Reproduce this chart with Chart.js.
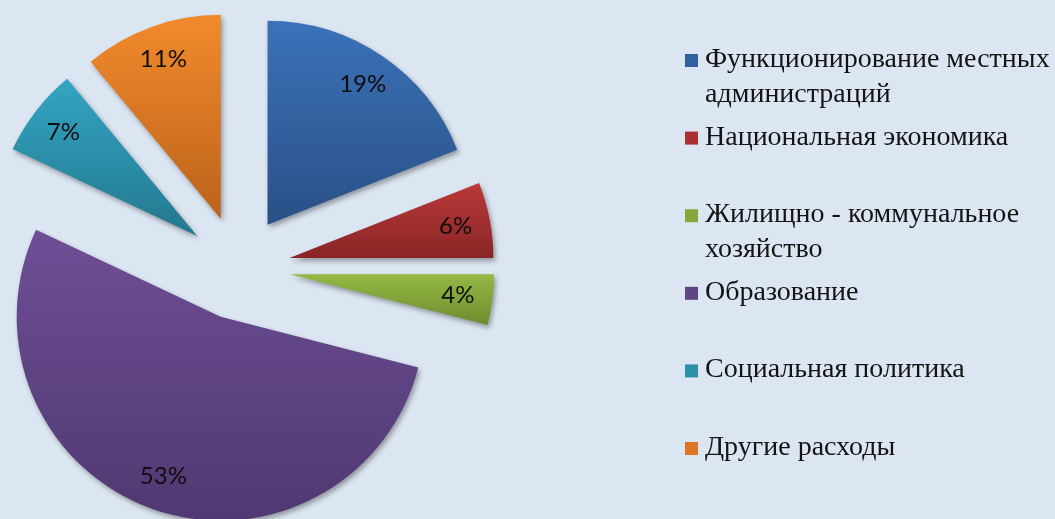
<!DOCTYPE html>
<html lang="ru">
<head>
<meta charset="utf-8">
<title>Структура расходов</title>
<script src="https://cdn.jsdelivr.net/npm/chart.js@4"></script>
<style>
  html, body { margin: 0; padding: 0; background: #dce6f2; }
  #wrap { width: 1055px; height: 519px; position: relative; }
</style>
</head>
<body>
<div id="wrap"><canvas id="pieChart"></canvas></div>
<script>
// Данные диаграммы
const categories = [
    ['Функционирование местных', 'администраций'],
    'Национальная экономика',
    ['Жилищно - коммунальное', 'хозяйство'],
    'Образование',
    'Социальная политика',
    'Другие расходы'
];
const values = [19, 6, 4, 53, 7, 11];

// Цвета: верх и низ градиента, и цвет маркера легенды
const topColors = ['#3b72b9', '#b93939', '#94b944', '#6e4f96', '#33a5c3', '#f28a2c'];
const bottomColors = ['#295086', '#8a2525', '#6e8c2f', '#503871', '#23788e', '#bc621b'];
const legendColors = ['#3060a0', '#a83030', '#84a83c', '#604585', '#2b90aa', '#dc7624'];

const EXPLODE = 52;      // вынос секторов, px
const LABEL_POS = 0.83;  // положение подписи от центра (доля радиуса)

// Градиент сверху вниз по высоте сектора
function sliceGradient(ctx, arc, i) {
    let top = arc.y, bottom = arc.y;
    for (let k = 0; k <= 40; k++) {
        const a = arc.startAngle + (arc.endAngle - arc.startAngle) * k / 40;
        const py = arc.y + Math.sin(a) * arc.outerRadius;
        top = Math.min(top, py);
        bottom = Math.max(bottom, py);
    }
    const g = ctx.createLinearGradient(0, top, 0, bottom);
    g.addColorStop(0, topColors[i]);
    g.addColorStop(1, bottomColors[i]);
    return g;
}

// Рисуем секторы сами: каждый смещён на одинаковое расстояние, с тенью
const explodePlugin = {
    id: 'explode',
    beforeDatasetDraw(chart, args) {
        const ctx = chart.ctx;
        args.meta.data.forEach((arc, i) => {
            const mid = (arc.startAngle + arc.endAngle) / 2;
            ctx.save();
            ctx.translate(Math.cos(mid) * EXPLODE, Math.sin(mid) * EXPLODE);
            ctx.shadowColor = 'rgba(0, 0, 0, 0.35)';
            ctx.shadowBlur = 5;
            ctx.shadowOffsetX = 2;
            ctx.shadowOffsetY = 3;
            arc.options.backgroundColor = sliceGradient(ctx, arc, i);
            arc.draw(ctx);
            ctx.restore();
        });
        return false;
    }
};

// Подписи процентов внутри секторов
const labelsPlugin = {
    id: 'sliceLabels',
    afterDatasetsDraw(chart) {
        const ctx = chart.ctx;
        const meta = chart.getDatasetMeta(0);
        const total = values.reduce((a, b) => a + b, 0);
        ctx.save();
        ctx.font = '24px Lato';
        ctx.fillStyle = '#0e0e0e';
        ctx.textAlign = 'center';
        ctx.textBaseline = 'middle';
        meta.data.forEach((arc, i) => {
            const mid = (arc.startAngle + arc.endAngle) / 2;
            const r = EXPLODE + arc.outerRadius * LABEL_POS;
            const text = Math.round(values[i] / total * 100) + '%';
            ctx.fillText(text, arc.x + Math.cos(mid) * r, arc.y + Math.sin(mid) * r);
        });
        ctx.restore();
    }
};

// Легенда справа
const legendPlugin = {
    id: 'sideLegend',
    afterDraw(chart) {
        const ctx = chart.ctx;
        const boxX = 685, textX = 705, firstBase = 67, step = 77.6, lineStep = 35, box = 13;
        ctx.save();
        ctx.font = '28px "Liberation Serif"';
        ctx.textBaseline = 'alphabetic';
        categories.forEach((cat, i) => {
            const base = firstBase + i * step;
            ctx.fillStyle = legendColors[i];
            ctx.fillRect(boxX, base - box, box, box);
            ctx.fillStyle = '#141414';
            const lines = Array.isArray(cat) ? cat : [cat];
            lines.forEach((line, j) => ctx.fillText(line, textX, base + j * lineStep));
        });
        ctx.restore();
    }
};

const ctx = document.getElementById('pieChart').getContext('2d');

const pieChart = new Chart(ctx, {
    type: 'pie',
    data: {
        labels: categories,
        datasets: [{
            data: values,
            backgroundColor: legendColors,
            borderWidth: 0,
            radius: 204
        }]
    },
    options: {
        responsive: true,
        maintainAspectRatio: false,
        animation: false,
        layout: {
            padding: { left: 0, right: 578.4, top: 20, bottom: 3.4 }
        },
        plugins: {
            legend: { display: false },
            tooltip: { enabled: false }
        }
    },
    plugins: [explodePlugin, labelsPlugin, legendPlugin]
});
</script>
</body>
</html>
